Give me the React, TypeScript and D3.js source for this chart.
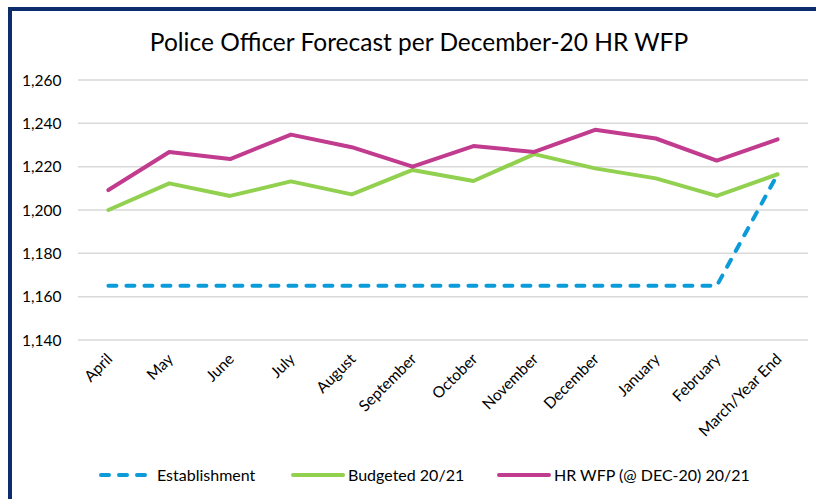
import React, { useEffect, useRef } from "react";
import * as d3 from "d3";

const months = ["April", "May", "June", "July", "August", "September", "October", "November", "December", "January", "February", "March/Year End"];
const establishment = [1165, 1165, 1165, 1165, 1165, 1165, 1165, 1165, 1165, 1165, 1165, 1216.5];
const budgeted = [1200, 1212.3, 1206.5, 1213.2, 1207.2, 1218.5, 1213.4, 1225.8, 1219.2, 1214.6, 1206.5, 1216.5];
const hrWfp = [1209.2, 1226.8, 1223.5, 1234.8, 1229, 1220, 1229.5, 1226.8, 1237, 1233, 1222.8, 1232.6];
const yTicks = [1140, 1160, 1180, 1200, 1220, 1240, 1260];

const seriesNames = ["Establishment", "Budgeted 20/21", "HR WFP (@ DEC-20) 20/21"];
const seriesColors = ["#0B9BD8", "#92D050", "#C13B8E"];

const font = "Lato, 'Open Sans', sans-serif";

export default function App() {
  const ref = useRef<SVGSVGElement>(null);

  useEffect(() => {
    const width = 816;
    const height = 499;
    const svg = d3.select(ref.current);
    svg.selectAll("*").remove();

    // frame
    svg.append("rect").attr("width", width).attr("height", height).attr("fill", "#fff");
    svg.append("path")
      .attr("d", "M10,499 L10,9 L816,9")
      .attr("fill", "none")
      .attr("stroke", "#0D2C6B")
      .attr("stroke-width", 4);

    svg.append("text")
      .attr("x", 419)
      .attr("y", 51)
      .attr("text-anchor", "middle")
      .attr("font-family", font)
      .attr("font-size", 24.5)
      .attr("fill", "#000")
      .text("Police Officer Forecast per December-20 HR WFP");

    const x = d3.scaleBand().domain(months).range([78, 808]);
    const y = d3.scaleLinear().domain([1140, 1260]).range([340, 80]);

    const chart = svg.append("g");

    chart.append("g")
      .selectAll("line")
      .data(yTicks)
      .enter()
      .append("line")
      .attr("x1", 78)
      .attr("x2", 808)
      .attr("y1", (d) => y(d))
      .attr("y2", (d) => y(d))
      .attr("stroke", "#D9D9D9")
      .attr("stroke-width", 1.5);

    chart.append("g")
      .selectAll("text")
      .data(yTicks)
      .enter()
      .append("text")
      .attr("x", 22)
      .attr("y", (d) => y(d) + 5.5)
      .attr("font-family", font)
      .attr("font-size", 15.5)
      .attr("fill", "#000")
      .text((d) => d3.format(",")(d));

    chart.append("g")
      .selectAll("text")
      .data(months)
      .enter()
      .append("text")
      .attr("transform", (d) => `translate(${x(d)! + x.bandwidth() / 2 + 5}, 360) rotate(-45)`)
      .attr("text-anchor", "end")
      .attr("font-family", font)
      .attr("font-size", 15.5)
      .attr("fill", "#000")
      .text((d) => d);

    const line = d3.line<number>()
      .x((d, i) => x(months[i])! + x.bandwidth() / 2)
      .y((d) => y(d));

    const all = [establishment, budgeted, hrWfp];
    all.forEach((vals, k) => {
      chart.append("path")
        .datum(vals)
        .attr("d", line)
        .attr("fill", "none")
        .attr("stroke", seriesColors[k])
        .attr("stroke-width", 4)
        .attr("stroke-linejoin", "round")
        .attr("stroke-linecap", "round")
        .attr("stroke-dasharray", k === 0 ? "8,10" : null);
    });

    // legend
    const legendX = [101, 293, 499];
    const legend = svg.append("g");
    seriesNames.forEach((name, k) => {
      legend.append("line")
        .attr("x1", legendX[k])
        .attr("x2", legendX[k] + 50)
        .attr("y1", 475)
        .attr("y2", 475)
        .attr("stroke", seriesColors[k])
        .attr("stroke-width", 4)
        .attr("stroke-linecap", "round")
        .attr("stroke-dasharray", k === 0 ? "8,10" : null);
      legend.append("text")
        .attr("x", legendX[k] + (k === 0 ? 56 : 55))
        .attr("y", 481)
        .attr("font-family", font)
        .attr("font-size", 16)
        .attr("fill", "#000")
        .text(name);
    });
  }, []);

  return (
    <svg
      ref={ref}
      width={816}
      height={499}
      style={{ position: "absolute", left: 0, top: 0, display: "block" }}
    />
  );
}
